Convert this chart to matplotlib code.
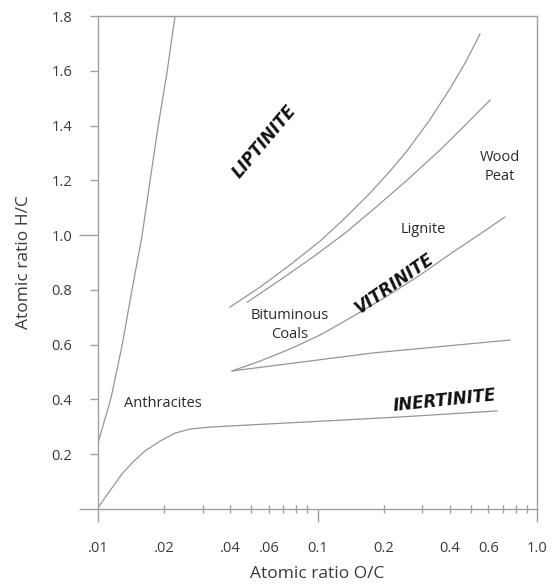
import numpy as np
import matplotlib
matplotlib.use("Agg")
import matplotlib.pyplot as plt
from matplotlib.ticker import FixedLocator, FixedFormatter

plt.rcParams['font.family'] = ['Open Sans', 'DejaVu Sans']

# ---- data ----
# steep boundary on the left (Anthracites / Liptinite)
left_x = [0.0100, 0.01146, 0.01286, 0.01428, 0.01586, 0.01726, 0.01876, 0.02063, 0.02243]
left_y = [0.241, 0.405, 0.595, 0.799, 0.996, 1.197, 1.394, 1.595, 1.799]

# lower boundary (Inertinite)
inert_x = [0.0100, 0.01065, 0.01158, 0.01286, 0.01444, 0.01637, 0.01917, 0.02243,
           0.02625, 0.03237, 0.04927, 0.1059, 0.2376, 0.657]
inert_y = [0.004, 0.036, 0.077, 0.128, 0.172, 0.212, 0.248, 0.277,
           0.292, 0.299, 0.307, 0.321, 0.336, 0.358]

# upper curve (Liptinite side)
lipt_x = [0.0399, 0.0547, 0.0749, 0.1027, 0.1306, 0.1734, 0.2140, 0.256, 0.3255, 0.4015, 0.470, 0.550]
lipt_y = [0.737, 0.810, 0.891, 0.978, 1.055, 1.153, 1.234, 1.308, 1.422, 1.535, 1.628, 1.734]

# second curve
mid_x = [0.0478, 0.0675, 0.0954, 0.1334, 0.1828, 0.256, 0.361, 0.470, 0.611]
mid_y = [0.755, 0.836, 0.920, 1.007, 1.099, 1.201, 1.310, 1.401, 1.493]

# vitrinite upper curve
vit_x = [0.0408, 0.0547, 0.0749, 0.1027, 0.1406, 0.2073, 0.2931, 0.414, 0.550, 0.714]
vit_y = [0.504, 0.540, 0.584, 0.635, 0.697, 0.777, 0.854, 0.938, 1.004, 1.066]

# vitrinite / inertinite straight boundary
vi_x = [0.0408, 0.18, 0.753]
vi_y = [0.504, 0.570, 0.617]

curves = [(left_x, left_y), (inert_x, inert_y), (lipt_x, lipt_y),
          (mid_x, mid_y), (vit_x, vit_y), (vi_x, vi_y)]

x_major = [0.01, 0.1, 1.0]
x_major_labels = ['.01', '0.1', '1.0']
x_minor = [0.02, 0.03, 0.04, 0.05, 0.06, 0.07, 0.08, 0.09,
           0.2, 0.3, 0.4, 0.5, 0.6, 0.7, 0.8, 0.9]
x_minor_labels = ['.02', '', '.04', '', '.06', '', '', '',
                  '0.2', '', '0.4', '', '0.6', '', '', '']
y_major = [0.0, 1.0]
y_major_labels = ['', '1.0']
y_minor = [0.2, 0.4, 0.6, 0.8, 1.2, 1.4, 1.6, 1.8]
y_minor_labels = ['0.2', '0.4', '0.6', '0.8', '1.2', '1.4', '1.6', '1.8']

# ---- figure ----
fig = plt.figure(figsize=(5.53, 5.86), dpi=100)
ax = fig.add_axes([98/553, 77/586, 439/553, 493/586])
ax.set_xscale('log')
ax.set_xlim(0.01, 1.0)
ax.set_ylim(0, 1.8)

line_col = '#969696'
for xs, ys in curves:
    ax.plot(xs, ys, color=line_col, lw=0.9, solid_joinstyle='round')

spine_col = '#a0a0a0'
for s in ax.spines.values():
    s.set_color(spine_col)
    s.set_linewidth(1.0)

ax.xaxis.set_major_locator(FixedLocator(x_major))
ax.xaxis.set_major_formatter(FixedFormatter(x_major_labels))
ax.xaxis.set_minor_locator(FixedLocator(x_minor))
ax.xaxis.set_minor_formatter(FixedFormatter(x_minor_labels))
ax.yaxis.set_major_locator(FixedLocator(y_major))
ax.yaxis.set_major_formatter(FixedFormatter(y_major_labels))
ax.yaxis.set_minor_locator(FixedLocator(y_minor))
ax.yaxis.set_minor_formatter(FixedFormatter(y_minor_labels))

tick_col = '#a0a0a0'
lab_col = '#3a3a3a'
fs_tick = 10.5
ax.tick_params(axis='x', which='major', direction='out', length=9.4, width=1,
               color=tick_col, labelcolor=lab_col, labelsize=fs_tick, pad=14.0)
ax.tick_params(axis='x', which='minor', direction='inout', length=5.5, width=1,
               color=tick_col, labelcolor=lab_col, labelsize=fs_tick, pad=20.6)
ax.tick_params(axis='y', which='major', direction='out', length=14, width=1,
               color=tick_col, labelcolor=lab_col, labelsize=fs_tick, pad=4.5)
ax.tick_params(axis='y', which='minor', direction='out', length=5.8, width=1,
               color=tick_col, labelcolor=lab_col, labelsize=fs_tick, pad=12.7)

ax.set_xlabel('Atomic ratio O/C', fontsize=12.5, color=lab_col, labelpad=7)
ax.set_ylabel('Atomic ratio H/C', fontsize=12.5, color=lab_col, labelpad=14)

txt_col = '#2a2a2a'
fs_txt = 10.5
ax.text(0.01977, 0.387, 'Anthracites', fontsize=fs_txt, color=txt_col,
        ha='center', va='center')
ax.text(0.0750, 0.672, 'Bituminous\nCoals', fontsize=fs_txt, color=txt_col,
        ha='center', va='center', linespacing=1.35)
ax.text(0.305, 1.022, 'Lignite', fontsize=fs_txt, color=txt_col,
        ha='center', va='center')
ax.text(0.678, 1.248, 'Wood\nPeat', fontsize=fs_txt, color=txt_col,
        ha='center', va='center', linespacing=1.4)

bold_kw = dict(fontsize=12, fontweight='bold', fontstyle='italic', color='#111111',
               ha='center', va='center', family=['DejaVu Sans'],
               rotation_mode='anchor')
ax.text(0.0571, 1.343, 'LIPTINITE', rotation=50, **bold_kw)
ax.text(0.2254, 0.825, 'VITRINITE', rotation=35, **bold_kw)
ax.text(0.381, 0.394, 'INERTINITE', rotation=6, **bold_kw)

fig.savefig('out.png', dpi=100)
